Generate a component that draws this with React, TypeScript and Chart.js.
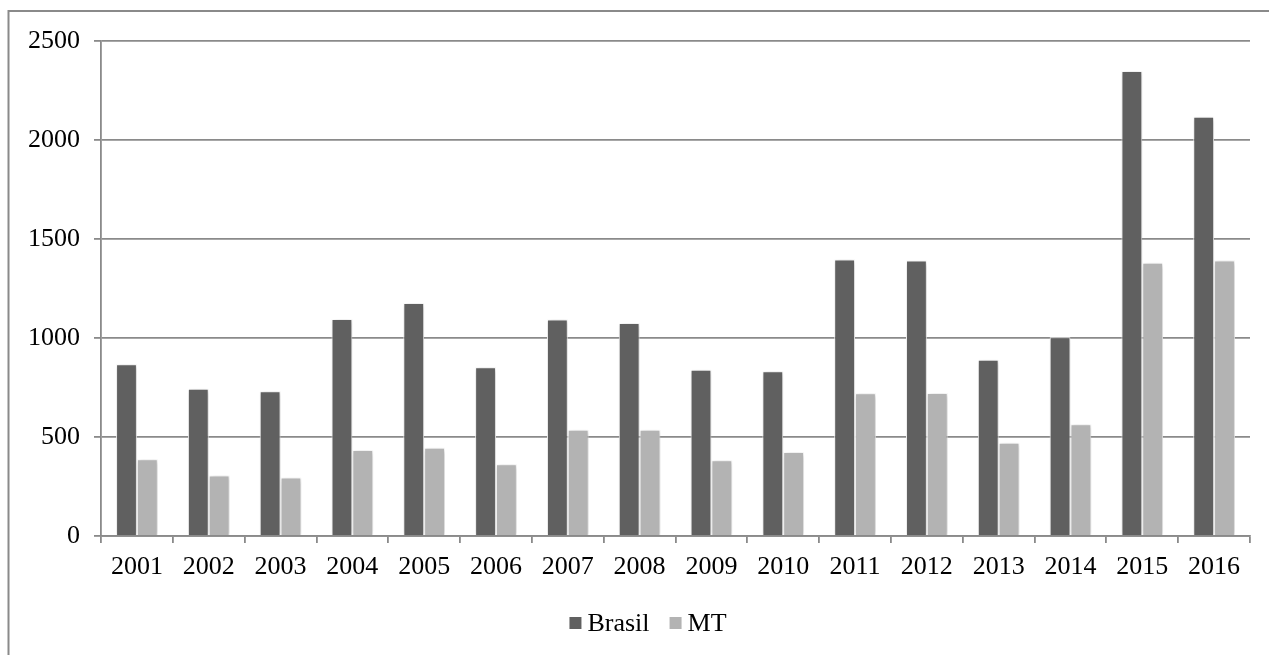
import React, { useEffect, useRef } from "react";
import { Chart, registerables } from "chart.js";

Chart.register(...registerables);

// Years on the category axis
const years = [
  "2001", "2002", "2003", "2004", "2005", "2006", "2007", "2008",
  "2009", "2010", "2011", "2012", "2013", "2014", "2015", "2016",
];

// Series values per year
const brasil = [867, 744, 731, 1096, 1177, 852, 1094, 1076, 840, 832, 1397, 1391, 890, 1004, 2348, 2118];
const mt = [387, 306, 295, 434, 446, 362, 537, 537, 382, 424, 721, 722, 471, 564, 1380, 1392];

// Value axis ticks
const yTicks = [0, 500, 1000, 1500, 2000, 2500];

const seriesNames = ["Brasil", "MT"];
const seriesColors = ["#606060", "#b3b3b3"];

const FONT = "'Liberation Serif', 'Times New Roman', serif";
const FONT_SIZE = 26;
const LINE = "#8a8a8a";

// Thin frame around the whole figure
const framePlugin = {
  id: "frame",
  beforeDraw(chart: any) {
    const ctx = chart.ctx;
    ctx.save();
    ctx.strokeStyle = LINE;
    ctx.lineWidth = 2;
    ctx.beginPath();
    ctx.moveTo(8, 11);
    ctx.lineTo(chart.width, 11);
    ctx.moveTo(8.5, 10);
    ctx.lineTo(8.5, chart.height);
    ctx.stroke();
    ctx.restore();
  },
};

// Soft shadow under the bars
const shadowPlugin = {
  id: "barShadow",
  beforeDatasetsDraw(chart: any) {
    const ctx = chart.ctx;
    ctx.save();
    ctx.shadowColor = "rgba(0,0,0,0.25)";
    ctx.shadowBlur = 5;
    ctx.shadowOffsetX = 1;
    ctx.shadowOffsetY = 1;
  },
  afterDatasetsDraw(chart: any) {
    chart.ctx.restore();
  },
};

// Legend row below the axis
const legendPlugin = {
  id: "bottomLegend",
  afterDraw(chart: any) {
    const ctx = chart.ctx;
    const box = 12;
    const gap = 6;
    const itemGap = 20;
    const centerX = 648;
    const centerY = 623;
    ctx.save();
    ctx.font = `${FONT_SIZE}px ${FONT}`;
    ctx.textBaseline = "middle";
    ctx.textAlign = "left";
    const items = chart.data.datasets.map((d: any) => ({
      label: d.label,
      color: d.backgroundColor,
      w: box + gap + ctx.measureText(d.label).width,
    }));
    const total = items.reduce((s: number, it: any) => s + it.w, 0) + itemGap * (items.length - 1);
    let x = centerX - total / 2;
    for (const it of items) {
      ctx.fillStyle = it.color;
      ctx.fillRect(x, centerY - box / 2, box, box);
      ctx.fillStyle = "#000";
      ctx.fillText(it.label, x + box + gap, centerY + 1);
      x += it.w + itemGap;
    }
    ctx.restore();
  },
};

export default function App() {
  const canvasRef = useRef<HTMLCanvasElement | null>(null);

  useEffect(() => {
    if (!canvasRef.current) return;
    const chart = new Chart(canvasRef.current, {
      type: "bar",
      data: {
        labels: years,
        datasets: [
          {
            label: seriesNames[0],
            data: brasil,
            backgroundColor: seriesColors[0],
            borderColor: "#ffffff",
            borderWidth: 1,
            borderSkipped: "bottom",
          },
          {
            label: seriesNames[1],
            data: mt,
            backgroundColor: seriesColors[1],
            borderColor: "#ffffff",
            borderWidth: 1,
            borderSkipped: "bottom",
          },
        ],
      },
      options: {
        responsive: false,
        animation: false,
        layout: { padding: { left: 0, right: 19, top: 41, bottom: 59 } },
        datasets: {
          bar: { categoryPercentage: 0.58, barPercentage: 1 },
        },
        plugins: {
          legend: { display: false },
          tooltip: { enabled: false },
        },
        scales: {
          x: {
            type: "category",
            afterFit(scale: any) {
              scale.height = 60;
            },
            grid: {
              drawOnChartArea: false,
              drawTicks: true,
              tickLength: 7,
              color: LINE,
              lineWidth: 1.8,
              offset: true,
            },
            border: { color: LINE, width: 1.8 },
            ticks: {
              color: "#000",
              font: { family: FONT, size: FONT_SIZE },
              padding: 9,
              maxRotation: 0,
              autoSkip: false,
            },
          },
          y: {
            min: yTicks[0],
            max: yTicks[yTicks.length - 1],
            afterFit(scale: any) {
              scale.width = 101;
            },
            afterBuildTicks(scale: any) {
              scale.ticks = yTicks.map((v) => ({ value: v }));
            },
            grid: {
              color: LINE,
              lineWidth: 1.8,
              tickLength: 7,
            },
            border: { color: LINE, width: 1.8 },
            ticks: {
              color: "#000",
              font: { family: FONT, size: FONT_SIZE },
              padding: 14,
              callback: (v: any) => String(v),
            },
          },
        },
      },
      plugins: [framePlugin, shadowPlugin, legendPlugin],
    });
    return () => chart.destroy();
  }, []);

  return (
    <div style={{ position: "fixed", left: 0, top: 0, width: 1269, height: 655, background: "#fff" }}>
      <canvas ref={canvasRef} width={1269} height={655} style={{ display: "block" }} />
    </div>
  );
}
